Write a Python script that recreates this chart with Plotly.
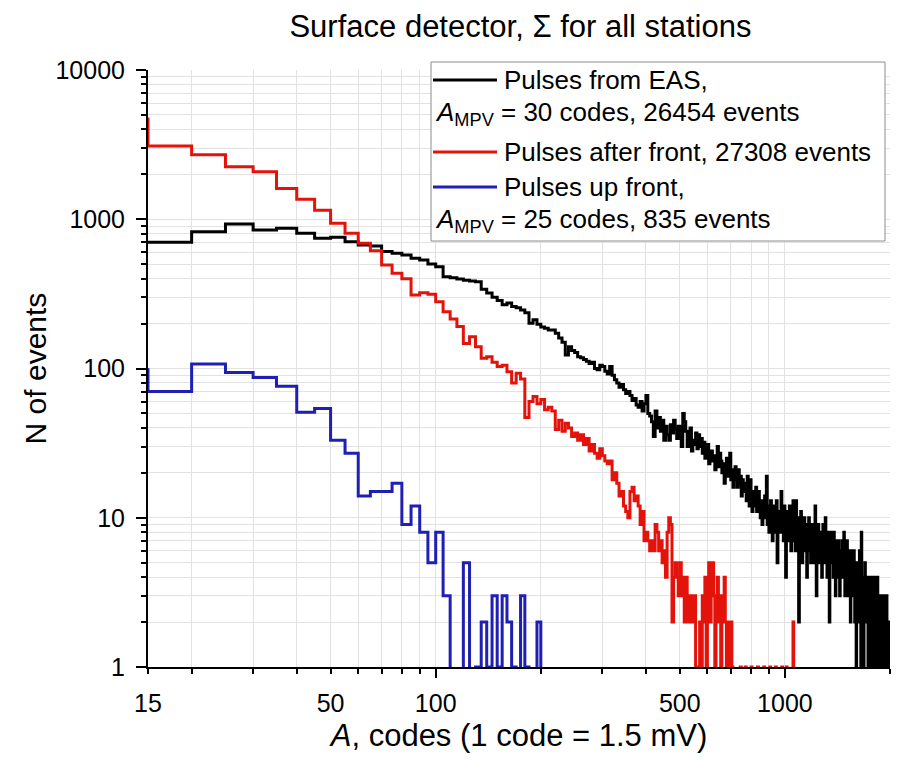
import numpy as np
import plotly.graph_objects as go

# ---------------- data (5-code bins, counts) ----------------
bin_width = 5

black_first_edge = 15
black_counts = [
    700, 826, 929, 847, 869, 805, 745, 757, 707, 672,
    662, 607, 592, 576, 547, 533, 501, 481, 412, 405,
    398, 390, 385, 382, 340, 320, 300, 285, 267, 275,
    260, 255, 247, 236, 201, 212, 198, 190, 186, 181,
    181, 172, 160, 150, 123, 140, 132, 128, 120, 118,
    115, 112, 108, 110, 100, 98, 105, 103, 96, 92,
    103, 90, 84, 80, 75, 78, 72, 68, 70, 66,
    61, 63, 57, 55, 60, 52, 58, 66, 50, 48,
    44, 35, 52, 40, 47, 38, 45, 33, 41, 36,
    33, 42, 37, 45, 39, 34, 41, 36, 30, 50,
    44, 38, 30, 35, 40, 28, 33, 31, 37, 29,
    36, 30, 34, 27, 32, 25, 29, 31, 23, 26,
    28, 24, 26, 21, 25, 30, 22, 27, 24, 20,
    23, 17, 21, 25, 19, 22, 27, 18, 21, 16,
    20, 22, 18, 16, 21, 17, 19, 14, 18, 15,
    15, 17, 13, 19, 16, 12, 18, 14, 11, 15,
    14, 12, 16, 11, 13, 15, 12, 10, 13, 9,
    12, 10, 14, 11, 19, 9, 12, 8, 11, 13,
    10, 7, 12, 9, 11, 8, 13, 5, 10, 9,
    11, 8, 15, 9, 10, 7, 12, 9, 4, 10,
    8, 11, 7, 12, 9, 6, 10, 8, 13, 7,
    9, 6, 13, 8, 10, 7, 2, 9, 6, 11,
    8, 5, 9, 7, 10, 8, 6, 9, 4, 8,
    7, 10, 6, 8, 5, 9, 7, 6, 8, 5,
    9, 12, 7, 3, 8, 6, 9, 5, 7, 8,
    6, 8, 4, 7, 9, 5, 7, 6, 10, 5,
    7, 4, 8, 6, 5, 2, 7, 6, 8, 5,
    6, 7, 4, 8, 5, 6, 3, 7, 5, 6,
    5, 7, 4, 6, 3, 5, 6, 4, 7, 5,
    4, 6, 8, 5, 3, 6, 4, 5, 7, 3,
    5, 4, 6, 3, 5, 2, 4, 6, 3, 5,
    4, 3, 6, 4, 2, 5, 3, 0, 4, 3,
    5, 3, 4, 2, 6, 3, 4, 1, 8, 3,
    0, 4, 3, 1, 4, 2, 5, 3, 2, 4,
    3, 2, 4, 1, 3, 4, 2, 3, 1, 3,
    2, 4, 3, 1, 2, 3, 1, 4, 2, 1,
    3, 2, 1, 3, 2, 4, 1, 2, 3, 1,
    2, 3, 1, 2, 0, 3, 1, 2, 3, 1,
    2, 1, 3, 0, 2, 1, 2, 1, 3, 1,
    1, 2, 0, 2, 1, 2, 1,
]

red_first_edge = 10
red_counts = [
    4700,
    3100, 2700, 2250, 2080, 1610, 1360, 1150, 940, 805, 690,
    615, 494, 434, 400, 311, 322, 315, 280, 240, 215,
    191, 147, 163, 140, 117, 120, 110, 103, 105, 95,
    80, 93, 85, 47, 60, 65, 58, 62, 53, 55,
    52, 39, 45, 38, 43, 40, 35, 37, 33, 36,
    31, 34, 28, 31, 27, 25, 29, 26, 24, 23,
    24, 18, 20, 17, 14, 15, 12, 11, 10, 15,
    16, 13, 14, 12, 9, 11, 7, 8, 7, 6,
    7, 6, 9, 8, 6, 7, 5, 6, 4, 8,
    10, 9, 2, 4, 5, 4, 3, 5, 3, 4,
    2, 4, 3, 2, 3, 3, 2, 3, 0, 1,
    0, 2, 1, 3, 2, 4, 1, 3, 5, 2,
    4, 5, 3, 1, 2, 4, 2, 3, 1, 2,
    3, 4, 2, 1, 2, 1, 2, 2, 1, 0,
    0, 0, 0, 0, 0, 0, 1, 0, 0, 0,
    0, 1, 0, 0, 0, 0, 0, 1, 0, 0,
    0, 0, 0, 0, 1, 0, 0, 0, 0, 0,
    0, 1, 0, 0, 0, 0, 0, 0, 1, 0,
    0, 0, 0, 0, 0, 1, 0, 0, 0, 0,
    0, 0, 0, 1, 0, 0, 0, 0, 0, 1,
    0, 0, 0, 0, 0, 0, 0, 0, 2, 0,
]

blue_first_edge = 10
blue_counts = [
    98, 70, 107, 94, 87, 76, 51, 54, 33, 27,
    14, 15, 15, 17, 9, 12, 8, 5, 8, 3,
    0, 0, 5, 0, 1, 2, 1, 3, 1, 3,
    2, 1, 0, 3, 1, 0, 0, 2, 0,
]

series_names = ["Pulses from EAS", "Pulses after front", "Pulses up front"]
legend_lines = [
    ["Pulses from EAS,", "<i>A</i><sub>MPV</sub> = 30 codes, 26454 events"],
    ["Pulses after front, 27308 events"],
    ["Pulses up front,", "<i>A</i><sub>MPV</sub> = 25 codes, 835 events"],
]

x_tick_vals = [15, 50, 100, 500, 1000]
x_tick_text = ["15", "50", "100", "500", "1000"]
x_long_ticks = [100, 1000]
x_minor_vals = [20, 30, 40, 60, 70, 80, 90, 200, 300, 400, 600, 700, 800, 900, 2000]
y_tick_vals = [1, 10, 100, 1000, 10000]
y_tick_text = ["1", "10", "100", "1000", "10000"]
y_minor_vals = [m * 10 ** d for d in range(4) for m in range(2, 10)]

x_range = [15, 2000]
y_range = [1, 10000]

# ---------------- styling / layout constants ----------------
FONT = "Liberation Sans, Arial, sans-serif"
colors = ["#000000", "#e3120b", "#1f1fb4"]
W, H = 902, 762
ML, MR, MT, MB = 148, 12, 70, 95
PW, PH = W - ML - MR, H - MT - MB


def px_to_paper(px, py):
    return (px - ML) / PW, (H - MB - py) / PH


def step_xy(first_edge, counts):
    counts = np.asarray(counts, dtype=float)
    edges = first_edge + bin_width * np.arange(len(counts) + 1)
    y = np.append(counts, counts[-1])
    y = np.where(y > 0, y, 0.1)  # empty bins drop below the log axis
    return edges, y


fig = go.Figure()
for (first, counts), name, col in zip(
    [(black_first_edge, black_counts), (red_first_edge, red_counts), (blue_first_edge, blue_counts)],
    series_names, colors):
    xs, ys = step_xy(first, counts)
    fig.add_trace(go.Scatter(x=xs, y=ys, mode="lines", line=dict(shape="hv", color=col, width=3),
                             name=name, showlegend=False))

# invisible trace for the overlay axis that carries the long x ticks
fig.add_trace(go.Scatter(x=[x_range[0]], y=[1], xaxis="x2", mode="markers",
                         marker=dict(opacity=0), showlegend=False, hoverinfo="skip"))

# ---------------- legend box (drawn like the original: 2nd lines hang under the sample) ----------------
shapes, annotations = [], []
bx0, by1 = px_to_paper(431, 62)
bx1, by0 = px_to_paper(885, 241)
shapes.append(dict(type="rect", xref="paper", yref="paper", x0=bx0, x1=bx1, y0=by0, y1=by1,
                   line=dict(color="#8c8c8c", width=1), fillcolor="white", layer="above"))
entry_rows_px = [[80, 114], [152], [187, 220]]
sample_x0, sample_x1, text_x, hang_x = 433, 497, 502, 433
legend_font = dict(family=FONT, size=26, color="black")
for lines, rows, col in zip(legend_lines, entry_rows_px, colors):
    sx0, sy = px_to_paper(sample_x0, rows[0])
    sx1, _ = px_to_paper(sample_x1, rows[0])
    shapes.append(dict(type="line", xref="paper", yref="paper", x0=sx0, x1=sx1, y0=sy, y1=sy,
                       line=dict(color=col, width=3), layer="above"))
    for k, (txt, ry) in enumerate(zip(lines, rows)):
        tx, ty = px_to_paper(text_x if k == 0 else hang_x, ry)
        annotations.append(dict(text=txt, xref="paper", yref="paper", x=tx, y=ty,
                                xanchor="left", yanchor="middle", showarrow=False,
                                font=legend_font))

grid_col = "#e2e2e2"
fig.update_layout(
    width=W, height=H,
    margin=dict(l=ML, r=MR, t=MT, b=MB),
    paper_bgcolor="white", plot_bgcolor="white",
    font=dict(family=FONT, color="black", size=25),
    title=dict(text="Surface detector, \u03a3 for all stations", x=0.577, xanchor="center",
               y=0.966, yanchor="middle", font=dict(size=31, family=FONT)),
    showlegend=False,
    shapes=shapes, annotations=annotations,
    xaxis=dict(type="log", range=[np.log10(x_range[0]), np.log10(x_range[1])],
               tickmode="array", tickvals=x_tick_vals, ticktext=x_tick_text,
               ticks="outside", ticklen=5, tickwidth=1.5, tickcolor="black",
               showline=True, linecolor="black", linewidth=2, mirror=False,
               showgrid=True, gridcolor=grid_col, gridwidth=1, zeroline=False,
               ticklabelstandoff=8, tickfont=dict(size=25),
               minor=dict(tickmode="array", tickvals=x_minor_vals, ticks="outside", ticklen=5,
                          tickwidth=1.5, tickcolor="black", showgrid=True, gridcolor=grid_col,
                          gridwidth=1),
               title=dict(text="<i>A</i>, codes (1 code = 1.5 mV)", font=dict(size=31, family=FONT),
                          standoff=8)),
    xaxis2=dict(type="log", range=[np.log10(x_range[0]), np.log10(x_range[1])],
                overlaying="x", side="bottom", anchor="y", tickmode="array", tickvals=x_long_ticks,
                ticks="outside", ticklen=10, tickwidth=1.5, tickcolor="black",
                showticklabels=False, showgrid=False, showline=False, zeroline=False),
    yaxis=dict(type="log", range=[np.log10(y_range[0]), np.log10(y_range[1])],
               tickmode="array", tickvals=y_tick_vals, ticktext=y_tick_text,
               ticks="outside", ticklen=10, tickwidth=1.5, tickcolor="black",
               showline=True, linecolor="black", linewidth=2, mirror=False,
               showgrid=True, gridcolor=grid_col, gridwidth=1, zeroline=False,
               ticklabelstandoff=6, tickfont=dict(size=25),
               minor=dict(tickmode="array", tickvals=y_minor_vals, ticks="outside", ticklen=5,
                          tickwidth=1.5, tickcolor="black", showgrid=True, gridcolor=grid_col,
                          gridwidth=1),
               title=dict(text="N of events", font=dict(size=30, family=FONT), standoff=0)),
)

fig.write_html("out.html")
